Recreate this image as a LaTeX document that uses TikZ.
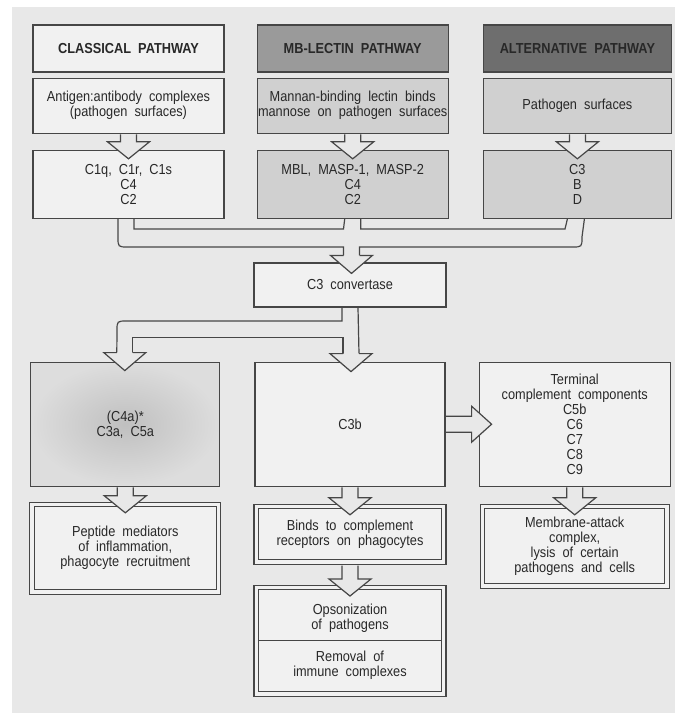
\documentclass[tikz,border=0pt]{standalone}
\usepackage{fontspec}
\setmainfont{Liberation Sans}[FakeStretch=0.88,WordSpace=2]
\usepackage{tikz}
\usetikzlibrary{positioning,calc}
\definecolor{page}{RGB}{232,232,232}
\definecolor{paper}{RGB}{241,241,241}
\definecolor{light}{RGB}{208,208,208}
\definecolor{mid}{RGB}{154,154,154}
\definecolor{dark}{RGB}{110,110,110}
\definecolor{ink}{RGB}{70,70,70}
\definecolor{txt}{RGB}{40,40,40}

% hollow arrow from the bottom of #2 into the top of #3 (#1 = gap below #2)
\newcommand{\fatdown}[3][0.6pt]{%
\filldraw[fat] let \p1=(#2.south), \p2=(#3.north) in
 (\x1-8pt,\y1-#1) -- (\x1-8pt,\y2+8pt) -- (\x1-21pt,\y2+8pt) -- (\x1,\y2-9pt)
 -- (\x1+21pt,\y2+8pt) -- (\x1+8pt,\y2+8pt) -- (\x1+8pt,\y1-#1);}
% hollow arrow from the right side of #1 into the left side of #2
\newcommand{\fatright}[2]{%
\filldraw[fat] let \p1=(#1.east), \p2=(#2.west) in
 (\x1+0.6pt,\y1+8pt) -- (\x2-7pt,\y1+8pt) -- (\x2-7pt,\y1+18pt) -- (\x2+13pt,\y1)
 -- (\x2-7pt,\y1-18pt) -- (\x2-7pt,\y1-8pt) -- (\x1+0.6pt,\y1-8pt);}
% only the head, tip at #1
\newcommand{\headat}[1]{%
\filldraw[fat] let \p1=#1 in
 (\x1-8pt,\y1+18pt) -- (\x1-21pt,\y1+18pt) -- (\x1,\y1) -- (\x1+21pt,\y1+18pt) -- (\x1+8pt,\y1+18pt);}

\begin{document}
\begin{tikzpicture}[x=1pt,y=-1pt,% pixel units, y going down
	every node/.style={
		align=center,		% so that "\\" breaks the line
		text=txt,
		inner sep=0.5pt,
		font=\fontsize{14.5}{15}\selectfont
		},
	box/.style={rectangle,draw=ink,line width=1.2pt,fill=paper,minimum width=191pt},
	hdr/.style={box,minimum height=47pt,font=\fontsize{14.5}{15}\selectfont\bfseries},
	src/.style={box,minimum height=55pt},
	comp/.style={box,minimum height=68pt},
	eff/.style={box,minimum height=124pt},
	res/.style={box,double=paper,double distance=3.3pt,minimum width=186.5pt},
	pipe/.style={draw=ink,line width=1.2pt},
	fat/.style={draw=ink,line width=1.2pt,fill=page}
	]
\fill[white] (0,0) rectangle (675,713);
\fill[page] (12,7) rectangle (675,713);
\useasboundingbox (0,0) rectangle (675,713);

% the three pathways
\node[hdr](cls1) at (128.5,48.5){CLASSICAL PATHWAY};
\node[hdr,fill=mid](lec1)[right=32pt of cls1]{MB-LECTIN PATHWAY};
\node[hdr,fill=dark,minimum width=188pt](alt1)[right=34pt of lec1]{ALTERNATIVE PATHWAY};
\node[src](cls2)[below=5pt of cls1]{Antigen:antibody complexes\\(pathogen surfaces)};
\node[src,fill=light](lec2)[below=5pt of lec1]{Mannan-binding lectin binds\\mannose on pathogen surfaces};
\node[src,fill=light,minimum width=188pt](alt2)[below=5pt of alt1]{Pathogen surfaces};
\node[comp](cls3)[below=16pt of cls2]{C1q, C1r, C1s\\C4\\C2};
\node[comp,fill=light](lec3)[below=16pt of lec2]{MBL, MASP-1, MASP-2\\C4\\C2};
\node[comp,fill=light,minimum width=188pt](alt3)[below=16pt of alt2]{C3\\B\\D};

\node[box,minimum width=192pt,minimum height=44pt](conv) at (350,285){C3 convertase};

% effectors
\node[eff,minimum width=190pt](eff2)[below=54pt of conv]{C3b};
\node[eff,minimum width=189pt,shading=radial,inner color=light!92!black,outer color=light!60!paper](eff1)[left=34pt of eff2]{(C4a)*\\C3a, C5a};
\node[eff](eff3)[right=33pt of eff2]{Terminal\\complement components\\C5b\\C6\\C7\\C8\\C9};
\node[res,minimum height=87.5pt](res1)[below=17pt of eff1]{Peptide mediators\\of inflammation,\\phagocyte recruitment};
\node[res,minimum width=187.5pt,minimum height=55.5pt](res2)[below=19pt of eff2]{Binds to complement\\receptors on phagocytes};
\node[res,minimum width=184.5pt,minimum height=79.5pt](res3)[below=19pt of eff3]{Membrane-attack\\complex,\\lysis of certain\\pathogens and cells};
\node[res,minimum width=187.5pt,minimum height=106.5pt](res4)[below=24.5pt of res2]{};
\node(ops) at ($(res4.center)+(0,-23)$){Opsonization\\of pathogens};
\node(rem) at ($(res4.center)+(0,24)$){Removal of\\immune complexes};
\draw[pipe] ([xshift=2.25pt]res4.west) -- ([xshift=-2.25pt]res4.east);

% arrows
\fatdown{cls2}{cls3}
\fatdown{lec2}{lec3}
\fatdown{alt2}{alt3}
\draw[pipe] ([xshift=-10.5pt]cls3.south) -- (118,237) .. controls (118,247) .. (128,247) -- (343.5,247) -- (343.5,256);
\draw[pipe] ([xshift=7pt]alt3.south) -- (582,237) .. controls (582,247) .. (572,247) -- (359.5,247) -- (359.5,256);
\draw[pipe] ([xshift=5.5pt]cls3.south) |- (343.5,229) -- ([xshift=-8pt]lec3.south);
\draw[pipe] ([xshift=8pt]lec3.south) |- (565,229) -- ([xshift=-10pt]alt3.south);
\headat{($(conv.north)+(1.5,11)$)}
\draw[pipe] ([xshift=8pt]conv.south) -- ($(eff2.north)+(9,-8)$);
\draw[pipe] ([xshift=-8pt]conv.south) |- (127,321) .. controls (117,321) .. (117,331) -- ($(eff1.north)+(-8.5,-9)$);
\draw[pipe] ($(eff1.north)+(7.5,-9)$) |- ($(eff2.north)+(-7,-24)$) -- ($(eff2.north)+(-7,-8)$);
\headat{($(eff1.north)+(-0.5,9)$)}
\headat{($(eff2.north)+(1,10)$)}
\fatright{eff2}{eff3}
\fatdown{eff1}{res1}
\fatdown{eff2}{res2}
\fatdown[3pt]{res2}{res4}
\fatdown{eff3}{res3}
\end{tikzpicture}
\end{document}
